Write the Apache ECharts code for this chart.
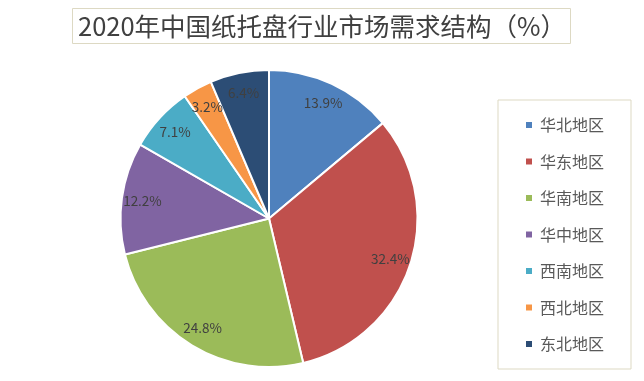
<!DOCTYPE html>
<html>
<head>
<meta charset="utf-8">
<script src="https://cdn.jsdelivr.net/npm/echarts@6/dist/echarts.min.js"></script>
<style>
  html, body { margin: 0; padding: 0; background: #ffffff; }
  #chart { width: 644px; height: 381px; }
</style>
</head>
<body>
<div id="chart"></div>
<script>
// Regional demand share of China's paper pallet industry, 2020 (%)
const regions = ['华北地区', '华东地区', '华南地区', '华中地区', '西南地区', '西北地区', '东北地区'];
const shares = [13.9, 32.4, 24.8, 12.2, 7.1, 3.2, 6.4];
const colors = ['#4F81BD', '#C0504D', '#9BBB59', '#8064A2', '#4BACC6', '#F79646', '#2C4D75'];

const FONT = '"Noto Sans CJK SC", "Noto Sans", sans-serif';
const data = regions.map((name, i) => ({ name, value: shares[i] }));

const chart = echarts.init(document.getElementById('chart'), null, { renderer: 'canvas' });
chart.setOption({
  backgroundColor: '#ffffff',
  animation: false,
  color: colors,
  title: {
    text: '2020年中国纸托盘行业市场需求结构（%）',
    left: 72,
    top: 8,
    padding: [4, 5, 4, 6],
    borderColor: '#DDD9C3',
    borderWidth: 1,
    textStyle: { fontFamily: FONT, fontSize: 25.5, lineHeight: 28, fontWeight: 'normal', color: '#404040' }
  },
  legend: {
    orient: 'vertical',
    left: 498,
    top: 100,
    padding: [17, 27, 17, 26],
    itemGap: 20.5,
    itemWidth: 8,
    itemHeight: 8,
    icon: 'rect',
    borderColor: '#DDD9C3',
    borderWidth: 1,
    textStyle: { fontFamily: FONT, fontSize: 16, color: '#595959', padding: [0, 0, 0, 2] },
    data: regions
  },
  series: [
    {
      type: 'pie',
      center: [269, 218.5],
      radius: [0, 148.5],
      startAngle: 90,
      clockwise: true,
      itemStyle: { borderColor: '#ffffff', borderWidth: 2 },
      label: { show: false },
      labelLine: { show: false },
      emphasis: { disabled: true },
      data: data
    },
    {
      // transparent ring that carries the percentage labels near the outer edge
      type: 'pie',
      center: [269, 218.5],
      radius: [101, 148.5],
      startAngle: 90,
      clockwise: true,
      silent: true,
      itemStyle: { color: 'rgba(0,0,0,0)', borderWidth: 0 },
      label: {
        show: true,
        position: 'inside',
        formatter: p => p.value.toFixed(1) + '%',
        fontFamily: FONT,
        fontSize: 13.5,
        color: '#404040'
      },
      labelLine: { show: false },
      emphasis: { disabled: true },
      data: data
    }
  ]
});
</script>
</body>
</html>
